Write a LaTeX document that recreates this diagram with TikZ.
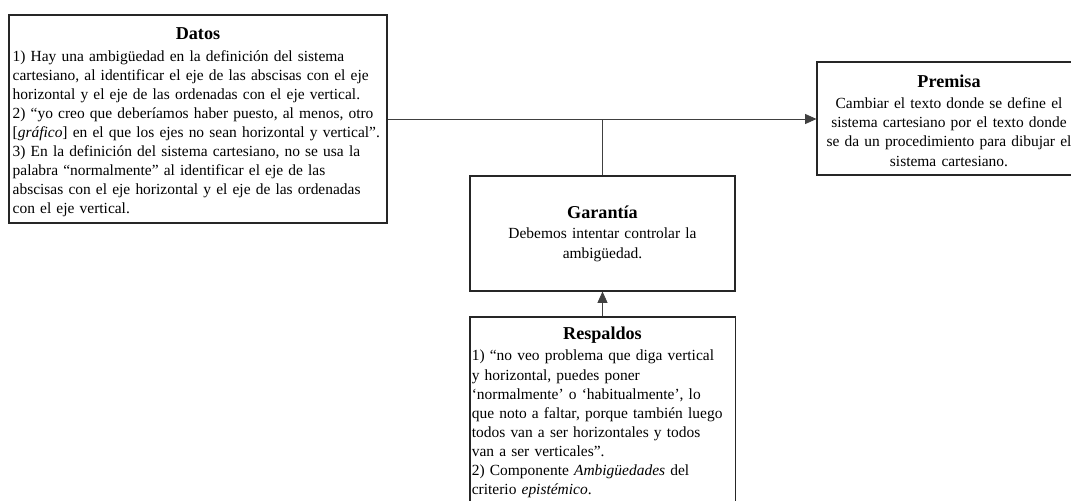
\documentclass[tikz,border=0pt]{standalone}
\usepackage{fontspec}
\setmainfont{Liberation Serif}
\usetikzlibrary{arrows.meta}
% heading of each box: a little larger, bold; #1 = room kept above it
\newcommand{\boxhead}[2][0pt]{{\fontsize{13.6}{16}\selectfont\bfseries\rule{0pt}{#1}#2}}
\begin{document}
\begin{tikzpicture}[x=0.75pt,y=-0.75pt,
  box/.style={draw=black!85, line width=0.8pt, fill=white, inner ysep=2pt,
    font=\fontsize{11.6}{14.3}\selectfont},
  leftbox/.style={box, align=left},
  midbox/.style={box, align=center},
  link/.style={draw=black!75, line width=0.6pt},
  tip/.style={-{Triangle[length=8.5pt,width=7.5pt]}}]
\useasboundingbox (0,0) rectangle (1071,500);
\fill[white] (0,0) rectangle (1071,500);

% Datos
\node[leftbox, minimum width=283.5pt, minimum height=156pt, text width=278pt,
  inner xsep=2.75pt] (datos) at (198,119)
{{\centering\boxhead[13.8pt]{Datos}\par}\vspace{1.8pt}
1) Hay una ambigüedad en la definición del sistema\\
cartesiano, al identificar el eje de las abscisas con el eje\\
horizontal y el eje de las ordenadas con el eje vertical.\\
2) “yo creo que deberíamos haber puesto, al menos, otro\\
{[}\textit{gráfico}{]} en el que los ejes no sean horizontal y vertical”.\\
3) En la definición del sistema cartesiano, no se usa la\\
palabra “normalmente” al identificar el eje de las\\
abscisas con el eje horizontal y el eje de las ordenadas\\
con el eje vertical.};

% Premisa
\node[midbox, minimum width=198pt, minimum height=84.75pt, text width=197pt,
  inner xsep=0.5pt] (premisa) at (949,118.5)
{\boxhead[12.5pt]{Premisa}\\[1.8pt]
Cambiar el texto donde se define el\\
sistema cartesiano por el texto donde\\
se da un procedimiento para dibujar el\\
sistema cartesiano.};

% Garantía
\node[midbox, minimum width=198.75pt, minimum height=86.25pt, text width=190pt] (garantia) at (602.5,233.5)
{\boxhead{Garantía}\\[1.2pt]
Debemos intentar controlar la\\
ambigüedad.};

% Respaldos
\node[leftbox, minimum width=198.75pt, minimum height=143.25pt, text width=196pt,
  inner xsep=1.4pt] (respaldos) at (602.5,412.5)
{{\centering\boxhead{Respaldos}\par}\vspace{1.5pt}
1) “no veo problema que diga vertical\\
y horizontal, puedes poner\\
‘normalmente’ o ‘habitualmente’, lo\\
que noto a faltar, porque también luego\\
todos van a ser horizontales y todos\\
van a ser verticales”.\\
2) Componente \textit{Ambigüedades} del\\
criterio \textit{epistémico}.};

% Connectors
\coordinate (join) at (garantia.north |- datos.east);
\draw[link, tip] (datos.east) -- (datos.east -| premisa.west);
\draw[link] (garantia.north) -- (join);
\draw[link, tip] (respaldos.north) -- (garantia.south);
\end{tikzpicture}
\end{document}
